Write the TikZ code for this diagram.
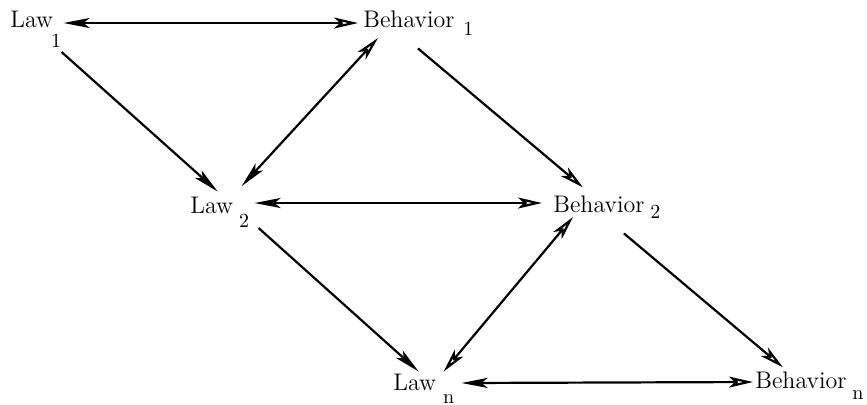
\documentclass[tikz,border=0pt]{standalone}
\usepackage{tikz}
\usetikzlibrary{arrows.meta}

\tikzset{
  fulltip/.tip={Stealth[length=13pt, width=5pt, inset=3pt]},
  opentip/.tip={Stealth[open, length=12pt, width=5.5pt, inset=3pt, fill=white]},
}

\begin{document}
\begin{tikzpicture}[
  x=0.5pt, y=-0.5pt,
  font=\fontsize{12}{14}\selectfont,
  term/.style={inner sep=0pt, anchor=base west},
  link/.style={line width=1.1pt},
]
\useasboundingbox (0,0) rectangle (867,404);

\newcommand{\lowsub}[3]{\rlap{\kern#1\raisebox{#2}{\fontsize{10}{12}\selectfont #3}}}

%% --- Nodes ---
\node[term] (law1) at (10,27)   {Law\lowsub{-1pt}{-10pt}{1}};
\node[term] (beh1) at (363,27)  {Behavior\lowsub{4.5pt}{-4pt}{1}};
\node[term] (law2) at (190,213) {Law\lowsub{3pt}{-7pt}{2}};
\node[term] (beh2) at (553,212) {Behavior\lowsub{3pt}{-3pt}{2}};
\node[term] (lawn) at (393,390) {Law\lowsub{3.5pt}{-6.5pt}{n}};
\node[term] (behn) at (755,388) {Behavior\lowsub{3pt}{-5.5pt}{n}};

%% --- Horizontal links ---
\draw[link, fulltip-opentip] ([shift={(5pt,2pt)}]law1.base east)
  -- ([shift={(-2.5pt,2pt)}]beh1.base west);
\draw[link, fulltip-opentip] ([shift={(10.5pt,5pt)}]law2.base east)
  -- ([shift={(-5.5pt,4.5pt)}]beh2.base west);
\draw[link, fulltip-opentip] ([shift={(12.5pt,3.5pt)}]lawn.base east)
  -- ([shift={(-1pt,3pt)}]behn.base west);

%% --- Law to law ---
\draw[link, -fulltip] ([shift={(4pt,-12.5pt)}]law1.base east)
  -- ([shift={(3pt,2.3pt)}]law2.north);
\draw[link, -fulltip] ([shift={(12.5pt,-7.5pt)}]law2.base east)
  -- ([shift={(2pt,0.8pt)}]lawn.north);

%% --- Behavior to behavior ---
\draw[link, -opentip] ([shift={(4.5pt,-6.5pt)}]beh1.south)
  -- ([shift={(-8pt,3.8pt)}]beh2.north);
\draw[link, -opentip] ([shift={(12.5pt,-7.5pt)}]beh2.south)
  -- ([shift={(-9pt,1.8pt)}]behn.north);

%% --- Behavior to next law ---
\draw[link, fulltip-opentip] ([shift={(4pt,5pt)}]law2.north east)
  -- ([shift={(7.5pt,-5.5pt)}]beh1.base west);
\draw[link, opentip-opentip] ([shift={(3.5pt,0.8pt)}]lawn.north east)
  -- ([shift={(10pt,-2.5pt)}]beh2.base west);

\end{tikzpicture}
\end{document}
